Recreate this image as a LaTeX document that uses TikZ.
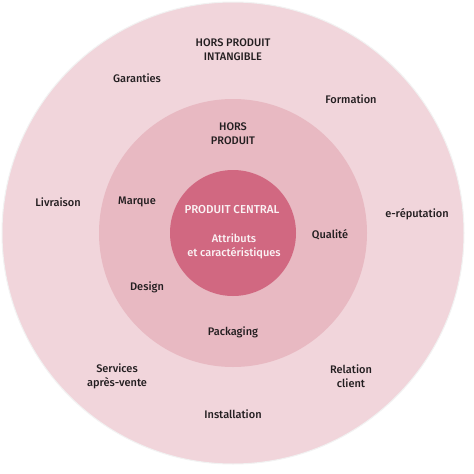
\documentclass[tikz,border=0pt]{standalone}
\usepackage{fontspec}
\setmainfont{Fira Sans}[UprightFont={* Medium}]
\usepackage{tikz}
\usetikzlibrary{positioning}

\definecolor{outerpink}{RGB}{241,213,219}
\definecolor{midpink}{RGB}{232,185,194}
\definecolor{corepink}{RGB}{209,104,129}
\definecolor{labeltext}{RGB}{35,30,32}

\begin{document}
\begin{tikzpicture}[
    x=1pt, y=-1pt,
    ring/.style={circle, draw=white!90!gray, line width=1pt},
    lbl/.style={align=center, text=labeltext, font=\fontsize{11}{14}\selectfont, inner sep=0pt},
    corelbl/.style={align=center, text=white!92!corepink, font=\fontsize{11}{14}\selectfont, inner sep=0pt}
]
    \useasboundingbox [fill=white] (0,0) rectangle (474,474);

    % rings
    \fill [outerpink, ring] (233,233) circle (231);
    \fill [midpink] (233,233) circle (134);
    \fill [corepink] (233,233) circle (63);

    % outer ring
    \node [lbl] (hpi) at (233,50) {HORS PRODUIT\\INTANGIBLE};
    \node [lbl] (garanties) at (137,78) {Garanties};
    \node [lbl] (formation) at (351,99) {Formation};
    \node [lbl] (livraison) at (58,202) {Livraison};
    \node [lbl] (ereput) at (417,214) {e-réputation};
    \node [lbl] (sav) at (117,376) {Services\\après-vente};
    \node [lbl] (relation) at (351,376) {Relation\\client};
    \node [lbl] (install) at (233,414) {Installation};

    % middle ring
    \node [lbl] (hp) at (233,134) {HORS\\PRODUIT};
    \node [lbl] (marque) at (137,202) {Marque};
    \node [lbl] (qualite) at (330,235) {Qualité};
    \node [lbl] (design) at (147,287) {Design};
    \node [lbl] (packaging) at (233,332) {Packaging};

    % core
    \node [corelbl, font=\fontsize{11.5}{14}\selectfont] (central) at (232,210) {PRODUIT CENTRAL};
    \node [corelbl] (attributs) at (234,246) {Attributs\\et caractéristiques};
\end{tikzpicture}
\end{document}
